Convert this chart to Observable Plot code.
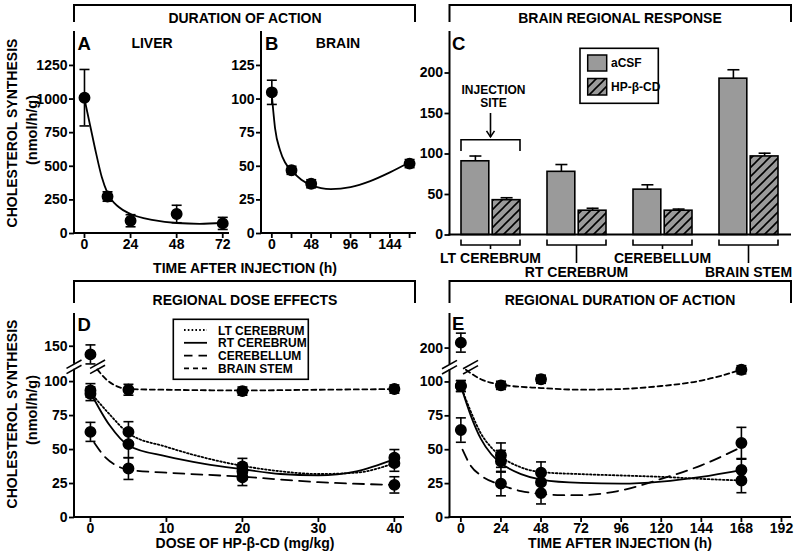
<!DOCTYPE html>
<html><head><meta charset="utf-8">
<script src="https://cdn.jsdelivr.net/npm/d3@7"></script>
<script src="https://cdn.jsdelivr.net/npm/@observablehq/plot@0.6"></script>
<style>
html,body{margin:0;padding:0;background:#fff;}
#fig{position:relative;width:800px;height:557px;overflow:hidden;background:#fff;}
g[aria-label$="axis tick"]{stroke-width:1.8px;}
.tick line{stroke-width:1.8px;}
</style></head><body>
<svg width="0" height="0" style="position:absolute"><defs>
<pattern id="hatch" patternUnits="userSpaceOnUse" width="9" height="9">
<rect width="9" height="9" fill="#9a9a9a"/>
<path d="M-2,2 L2,-2 M0,9 L9,0 M7,11 L11,7" stroke="black" stroke-width="1.6"/>
</pattern></defs></svg>
<div id="fig"></div>
<script>
// ---------- DATA ----------
// Panel A: liver
const liverHours = [0, 12, 24, 48, 72];
const liverMean  = [1010, 275, 95, 145, 75];
const liverErr   = [210, 35, 45, 65, 45];
const liverFitHours = [0, 3, 6, 9, 12, 18, 24, 36, 48, 60, 72];
const liverFit      = [1000, 800, 600, 420, 300, 195, 145, 100, 78, 72, 78];
const liverTicksX = [0, 24, 48, 72];
const liverTicksY = [0, 250, 500, 750, 1000, 1250];

// Panel B: brain
const brainHours = [0, 24, 48, 168];
const brainMean  = [105, 47, 37, 52];
const brainErr   = [9, 3, 3, 3];
const brainFitHours = [0, 4, 10, 16, 24, 36, 48, 72, 96, 120, 144, 168];
const brainFit      = [103, 78, 62, 53, 47, 40, 36, 33, 34.5, 39, 45.5, 53];
const brainTicksX = [0, 24, 48, 72, 96, 120, 144, 168];
const brainLabelsX = [0, 48, 96, 144];
const brainTicksY = [0, 25, 50, 75, 100, 125];

// Panel C: regional response
const regions  = ["LT CEREBRUM", "RT CEREBRUM", "CEREBELLUM", "BRAIN STEM"];
const acsfMean = [91, 78, 56, 193];
const acsfErr  = [6.5, 9, 6, 11];
const hpcdMean = [43, 30, 30, 97];
const hpcdErr  = [3, 3, 2, 4];
const cTicksY = [0, 50, 100, 150, 200];
const treatments = ["aCSF", "HP-β-CD"];

// Panel D: dose effects
const doses = [0, 5, 20, 40];
const dLT  = [91, 63, 37.5, 40],   dLTErr  = [5, 7.5, 6, 6];
const dRT  = [93.5, 54, 34, 44],   dRTErr  = [5, 10, 6, 6];
const dCB  = [63, 36, 29.5, 24],   dCBErr  = [7, 8, 6, 6];
const dBS  = [144, 94, 93, 94.5],  dBSErr  = [7, 4, 3, 3];
const dFitLTx = [0, 2.5, 5, 10, 15, 20, 25, 30, 35, 40];
const dFitLT  = [92, 76, 62, 52, 44, 38, 34, 32, 33, 40];
const dFitRTx = [0, 2.5, 5, 10, 15, 20, 25, 30, 35, 40];
const dFitRT  = [92, 68, 53, 45, 39.5, 35.5, 32, 31, 34, 43];
const dFitCBx = [0.5, 2, 3.5, 5, 10, 20, 30, 40];
const dFitCB  = [55, 44, 38, 35, 33, 30, 26, 24];
const dFitBSx = [0.9, 2, 3.5, 5, 10, 20, 30, 40];
const dFitBS  = [109, 102, 96.5, 94.5, 94, 93.5, 94, 94.5];
const dTicksX = [0, 10, 20, 30, 40];
const dTicksY = [0, 25, 50, 75, 100, 150];

// Panel E: regional duration
const eHours = [0, 24, 48, 168];
const eLT = [97, 46, 33, 27.3],  eLTErr = [4, 9, 8, 9];
const eRT = [97, 41.5, 26, 35],  eRTErr = [4, 8, 8, 8];
const eCB = [64.5, 25, 18, 55],  eCBErr = [9, 9, 8, 11.5];
const eBS = [204, 97.5, 102, 109], eBSErr = [7, 3, 3, 3];
const eFitLTx = [0, 6, 12, 18, 24, 36, 48, 72, 96, 120, 144, 168];
const eFitLT  = [97, 78, 62, 52, 45, 37, 33.5, 32, 31, 30, 28.5, 27.3];
const eFitRTx = [0, 6, 12, 18, 24, 36, 48, 72, 96, 120, 144, 168];
const eFitRT  = [97, 75, 58, 47, 40, 32, 28, 25.5, 25, 26.5, 30, 35];
const eFitCBx = [1, 6, 12, 24, 36, 48, 60, 72, 96, 120, 144, 168];
const eFitCB  = [50, 38, 31, 24, 19.5, 17.4, 16.5, 16.5, 20, 28.5, 38.5, 52];
const eFitBSx = [3, 12, 24, 48, 72, 96, 120, 144, 168];
const eFitBS  = [109, 102, 98, 95.5, 94.3, 94.8, 97, 101, 109];
const eTicksX = [0, 24, 48, 72, 96, 120, 144, 168, 192];
const eTicksY = [0, 25, 50, 75, 100, 200];

const seriesNames = ["LT CEREBRUM", "RT CEREBRUM", "CEREBELLUM", "BRAIN STEM"];

// ---------- STYLE ----------
const FONT = '"Liberation Sans", Arial, Helvetica, sans-serif';
const W = 800, H = 557;
const DASH = {"LT CEREBRUM": "1.6,2.2", "RT CEREBRUM": null, "CEREBELLUM": "11,7", "BRAIN STEM": "5,3.5"};
const LEGDASH = {"LT CEREBRUM": "1.6,2.2", "RT CEREBRUM": null, "CEREBELLUM": "8.5,6", "BRAIN STEM": "5,4"};
const GRAY = "#9a9a9a";
const plain = d => String(d);

const rows = (xs, ms, es) => xs.map((x, i) => ({x, v: ms[i], e: es[i]}));
const pts = (xs, ys) => xs.map((x, i) => ({x, y: ys[i]}));
const capSym = {draw(ctx, size) { const h = Math.sqrt(size / Math.PI); ctx.moveTo(-h, 0); ctx.lineTo(h, 0); }};

// broken-axis display transforms
const breakD = v => v > 120 ? v - 24 : v;
const breakE = v => v > 150 ? v - 75 : v;
const ident = v => v;

function errMarks(data, yf = ident, r = 5) {
  return [
    Plot.ruleX(data, {x: "x", y1: d => yf(d.v - d.e), y2: d => yf(d.v + d.e), stroke: "black", strokeWidth: 1.6}),
    Plot.dot(data, {x: "x", y: d => yf(d.v + d.e), symbol: capSym, r, stroke: "black", strokeWidth: 1.6, fill: "none"}),
    Plot.dot(data, {x: "x", y: d => yf(d.v - d.e), symbol: capSym, r, stroke: "black", strokeWidth: 1.6, fill: "none"})
  ];
}
function dots(data, yf = ident) {
  return Plot.dot(data, {x: "x", y: d => yf(d.v), r: 5.2, fill: "black", stroke: "black"});
}
function fitLine(data, yf = ident, dash = null) {
  const o = {x: "x", y: d => yf(d.y), curve: "monotone-x", stroke: "black", strokeWidth: 1.8};
  if (dash) o.strokeDasharray = dash;
  return Plot.line(data, o);
}

// axis lines (frame left + bottom), optional break on y
function frame(brk) {
  return (index, scales, values, dim) => {
    const l = dim.marginLeft, r = dim.width - dim.marginRight, t = dim.marginTop, b = dim.height - dim.marginBottom;
    const g = d3.create("svg:g").attr("fill", "none").attr("stroke", "black").attr("stroke-width", 2);
    g.append("path").attr("d", `M${l},${b}H${r}`).attr("stroke-linecap", "square");
    if (!brk) {
      g.append("path").attr("d", `M${l},${t}V${b}`).attr("stroke-linecap", "square");
    } else {
      const yc = scales.y(brk.at);
      g.append("path").attr("d", `M${l},${t}V${yc - 3}`);
      g.append("path").attr("d", `M${l},${yc + 3}V${b}`).attr("stroke-linecap", "square");
      const xs = [l, scales.x(brk.x)];
      for (const cx of xs) {
        for (const off of [-2.6, 2.6]) {
          g.append("path").attr("d", `M${cx - 7.5},${yc + off + 4.2}L${cx + 7.5},${yc + off - 4.2}`).attr("stroke-width", 1.6);
        }
      }
    }
    return g.node();
  };
}

function opts(box, x, y, marks) {
  return {
    width: W, height: H,
    marginLeft: box.l, marginRight: W - box.r, marginTop: box.t, marginBottom: H - box.b,
    style: {background: "none", fontFamily: FONT, fontSize: "14px", fontWeight: "bold", color: "black", overflow: "visible"},
    x: {tickSize: 5, tickPadding: 1, label: null, tickFormat: plain, ...x},
    y: {tickSize: 5, tickPadding: 2, label: null, tickFormat: plain, ...y},
    marks
  };
}

const fig = document.getElementById("fig");
function mount(el) {
  el.style.position = "absolute"; el.style.left = "0px"; el.style.top = "0px";
  fig.appendChild(el);
}

// ---------- PANEL A ----------
mount(Plot.plot(opts({l: 74, r: 228, t: 32, b: 233},
  {domain: [-5.2, 75], ticks: liverTicksX},
  {domain: [0, 1495], ticks: liverTicksY},
  [
    frame(),
    fitLine(pts(liverFitHours, liverFit)),
    ...errMarks(rows(liverHours, liverMean, liverErr)),
    dots(rows(liverHours, liverMean, liverErr))
  ])));

// ---------- PANEL B ----------
mount(Plot.plot(opts({l: 261, r: 415, t: 32, b: 233},
  {domain: [-12.6, 175.2], ticks: brainTicksX, tickFormat: d => brainLabelsX.includes(d) ? String(d) : ""},
  {domain: [0, 149.5], ticks: brainTicksY},
  [
    frame(),
    fitLine(pts(brainFitHours, brainFit)),
    ...errMarks(rows(brainHours, brainMean, brainErr)),
    dots(rows(brainHours, brainMean, brainErr))
  ])));

// ---------- PANEL C ----------
const cA = regions.map((g, i) => ({g, v: acsfMean[i], e: acsfErr[i]}));
const cH = regions.map((g, i) => ({g, v: hpcdMean[i], e: hpcdErr[i]}));
const BAR_INSET = 31.2, BAR_OFF = 15.6;

function regionBrackets(index, scales, values, dim) {
  const x = scales.x, y = scales.y;
  const bw = typeof x.bandwidth === "function" ? x.bandwidth() : x.bandwidth;
  const b = y(0);
  const g = d3.create("svg:g");
  regions.forEach((name, i) => {
    const x0 = x(name), x1 = x0 + bw, xc = x0 + bw / 2, yb = b + 10.5;
    const low = i % 2 === 1;
    g.append("path")
      .attr("d", `M${x0},${b + 5}V${yb}H${x1}V${b + 5}M${xc},${yb}V${yb + (low ? 18 : 4)}`)
      .attr("fill", "none").attr("stroke", "black").attr("stroke-width", 1.6);
    g.append("text").attr("x", xc).attr("y", yb + (low ? 27 : 13)).attr("dy", "0.35em")
      .attr("text-anchor", "middle").attr("fill", "black").text(name);
  });
  // injection site annotation over LT cerebrum
  const x0 = x(regions[0]), x1 = x0 + bw, xc = x0 + bw / 2;
  const yBr = y(117), yEnd = y(103), yA0 = y(150), yA1 = y(120.5);
  g.append("path").attr("d", `M${x0},${yEnd}V${yBr}H${x1}V${yEnd}M${xc},${yA0}V${yA1}`)
    .attr("fill", "none").attr("stroke", "black").attr("stroke-width", 1.6);
  g.append("path").attr("d", `M${xc - 4},${yA1 - 6}L${xc},${yA1}L${xc + 4},${yA1 - 6}`)
    .attr("fill", "none").attr("stroke", "black").attr("stroke-width", 1.6);
  g.append("text").attr("x", xc + 3).attr("y", y(179)).attr("dy", "0.35em").attr("text-anchor", "middle")
    .attr("font-size", 12).attr("fill", "black").text("INJECTION");
  g.append("text").attr("x", xc + 3).attr("y", y(162)).attr("dy", "0.35em").attr("text-anchor", "middle")
    .attr("font-size", 12).attr("fill", "black").text("SITE");
  return g.node();
}

function barErr(data, dx) {
  return [
    Plot.ruleX(data, {x: "g", y1: "v", y2: d => d.v + d.e, dx, stroke: "black", strokeWidth: 1.6}),
    Plot.dot(data, {x: "g", y: d => d.v + d.e, dx, symbol: capSym, r: 6, stroke: "black", strokeWidth: 1.6, fill: "none"})
  ];
}

mount(Plot.plot(opts({l: 449.5, r: 790, t: 32, b: 234.5},
  {type: "band", domain: regions, paddingInner: 0.314, paddingOuter: 0.12, align: 0.5, axis: null, tickFormat: undefined},
  {domain: [0, 250], ticks: cTicksY},
  [
    ...barErr(cA, -BAR_OFF),
    ...barErr(cH, BAR_OFF),
    Plot.barY(cA, {x: "g", y: "v", fill: GRAY, stroke: "black", strokeWidth: 1.6, insetRight: BAR_INSET}),
    Plot.barY(cH, {x: "g", y: "v", fill: "url(#hatch)", stroke: "black", strokeWidth: 1.6, insetLeft: BAR_INSET}),
    frame(),
    regionBrackets
  ])));

// ---------- PANEL D ----------
const dLabel = new Map(dTicksY.map(v => [breakD(v), String(v)]));
const dSeries = [
  {name: seriesNames[0], data: rows(doses, dLT, dLTErr), fit: pts(dFitLTx, dFitLT)},
  {name: seriesNames[1], data: rows(doses, dRT, dRTErr), fit: pts(dFitRTx, dFitRT)},
  {name: seriesNames[2], data: rows(doses, dCB, dCBErr), fit: pts(dFitCBx, dFitCB)},
  {name: seriesNames[3], data: rows(doses, dBS, dBSErr), fit: pts(dFitBSx, dFitBS)}
];
mount(Plot.plot(opts({l: 74, r: 403, t: 313, b: 517},
  {domain: [-2.1, 41.2], ticks: dTicksX},
  {domain: [0, 150.1], ticks: dTicksY.map(breakD), tickFormat: d => dLabel.get(d) ?? ""},
  [
    frame({at: 110.5, x: 1.0}),
    ...dSeries.map(s => fitLine(s.fit, breakD, DASH[s.name])),
    ...dSeries.flatMap(s => errMarks(s.data, breakD)),
    ...dSeries.map(s => dots(s.data, breakD))
  ])));

// ---------- PANEL E ----------
const eLabel = new Map(eTicksY.map(v => [breakE(v), String(v)]));
const eSeries = [
  {name: seriesNames[0], data: rows(eHours, eLT, eLTErr), fit: pts(eFitLTx, eFitLT)},
  {name: seriesNames[1], data: rows(eHours, eRT, eRTErr), fit: pts(eFitRTx, eFitRT)},
  {name: seriesNames[2], data: rows(eHours, eCB, eCBErr), fit: pts(eFitCBx, eFitCB)},
  {name: seriesNames[3], data: rows(eHours, eBS, eBSErr), fit: pts(eFitBSx, eFitBS)}
];
mount(Plot.plot(opts({l: 449.5, r: 790, t: 313, b: 517},
  {domain: [-6.5, 197.4], ticks: eTicksX},
  {domain: [0, 150.5], ticks: eTicksY.map(breakE), tickFormat: d => eLabel.get(d) ?? ""},
  [
    frame({at: 110.5, x: 6.1}),
    ...eSeries.map(s => fitLine(s.fit, breakE, DASH[s.name])),
    ...eSeries.flatMap(s => errMarks(s.data, breakE)),
    ...eSeries.map(s => dots(s.data, breakE))
  ])));

// ---------- OVERLAY: headers, titles, legends ----------
const ov = d3.create("svg").attr("width", W).attr("height", H)
  .style("position", "absolute").style("left", "0px").style("top", "0px")
  .attr("font-family", FONT).attr("font-weight", "bold").attr("font-size", 14).attr("fill", "black");

const headerTexts = ["DURATION OF ACTION", "BRAIN REGIONAL RESPONSE", "REGIONAL DOSE EFFECTS", "REGIONAL DURATION OF ACTION"];
const headerBoxes = [[74, 415, 5, 22, 245, 18.5], [449.5, 791, 5, 22, 620, 18.5], [74, 415, 281, 303, 245, 300.5], [449.5, 791, 281, 303, 620, 300.5]];
headerTexts.forEach((t, i) => {
  const [x1, x2, y, yd, tx, ty] = headerBoxes[i];
  ov.append("path").attr("d", `M${x1},${yd}V${y}H${x2}V${yd}`).attr("fill", "none").attr("stroke", "black").attr("stroke-width", 2);
  ov.append("text").attr("x", tx).attr("y", ty).attr("dy", "0.35em").attr("text-anchor", "middle").text(t);
});

function vtext(x, y, t, size) {
  ov.append("text").attr("transform", `translate(${x},${y}) rotate(-90)`).attr("text-anchor", "middle")
    .attr("dy", "0.35em").attr("font-size", size).text(t);
}
vtext(12, 133, "CHOLESTEROL SYNTHESIS", 14);
vtext(31.5, 130, "(nmol/h/g)", 14.5);
vtext(12, 414, "CHOLESTEROL SYNTHESIS", 14);
vtext(31.5, 410, "(nmol/h/g)", 14.5);

function htext(x, y, t, size = 14, anchor = "middle") {
  ov.append("text").attr("x", x).attr("y", y).attr("dy", "0.35em").attr("text-anchor", anchor).attr("font-size", size).text(t);
}
htext(245, 268, "TIME AFTER INJECTION (h)");
htext(245, 543, "DOSE OF HP-β-CD (mg/kg)");
htext(620, 543, "TIME AFTER INJECTION (h)");

htext(77.5, 43.5, "A", 18.5, "start");
htext(152, 43.5, "LIVER");
htext(265, 43.5, "B", 18.5, "start");
htext(338, 43.5, "BRAIN");
htext(452, 43.5, "C", 18.5, "start");
htext(77.5, 325, "D", 18.5, "start");
htext(452, 323.5, "E", 18.5, "start");

// legend C
ov.append("rect").attr("x", 580).attr("y", 48.3).attr("width", 78.3).attr("height", 55).attr("fill", "white").attr("stroke", "black").attr("stroke-width", 1.6);
ov.append("rect").attr("x", 587.7).attr("y", 55).attr("width", 19).attr("height", 16).attr("fill", GRAY).attr("stroke", "black").attr("stroke-width", 1.5);
ov.append("rect").attr("x", 587.7).attr("y", 78.5).attr("width", 19).attr("height", 16.5).attr("fill", "url(#hatch)").attr("stroke", "black").attr("stroke-width", 1.5);
htext(611, 63.2, treatments[0], 12, "start");
htext(611, 87, treatments[1], 12, "start");

// legend D
ov.append("rect").attr("x", 173.3).attr("y", 319.3).attr("width", 135).attr("height", 60).attr("fill", "white").attr("stroke", "black").attr("stroke-width", 1.6);
seriesNames.forEach((n, i) => {
  const yy = 330 + i * 12.8;
  const ln = ov.append("line").attr("x1", 184).attr("x2", 207).attr("y1", yy).attr("y2", yy).attr("stroke", "black").attr("stroke-width", 1.8);
  if (LEGDASH[n]) ln.attr("stroke-dasharray", LEGDASH[n]);
  htext(218, yy + 0.3, n, 12, "start");
});

fig.appendChild(ov.node());
</script></body></html>
